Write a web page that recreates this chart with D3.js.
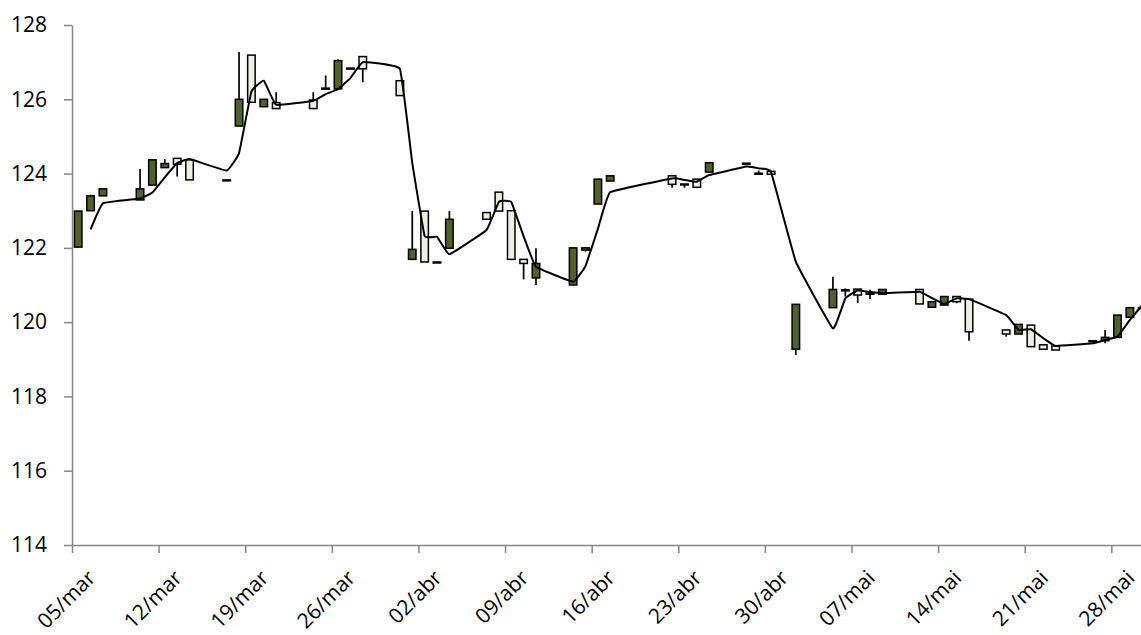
<!DOCTYPE html>
<html>
<head>
<meta charset="utf-8">
<script src="https://cdn.jsdelivr.net/npm/d3@7"></script>
<style>
  body { margin: 0; background: #fff; }
  svg text { font-family: "Open Sans", "Liberation Sans", sans-serif; }
</style>
</head>
<body>
<svg id="chart" width="1141" height="635"></svg>
<script>
// trading days (2014), dd/mm
const dates = [
  "05/03","06/03","07/03",
  "10/03","11/03","12/03","13/03","14/03",
  "17/03","18/03","19/03","20/03","21/03",
  "24/03","25/03","26/03","27/03","28/03",
  "31/03","01/04","02/04","03/04","04/04",
  "07/04","08/04","09/04","10/04","11/04",
  "14/04","15/04","16/04","17/04",
  "22/04","23/04","24/04","25/04",
  "28/04","29/04","30/04","02/05",
  "05/05","06/05","07/05","08/05","09/05",
  "12/05","13/05","14/05","15/05","16/05",
  "19/05","20/05","21/05","22/05","23/05",
  "26/05","27/05","28/05","29/05","30/05"
];

const openValues = [
  122.02, 123.00, 123.40,
  123.29, 123.69, 124.16, 124.41, 124.37,
  123.83, 125.28, 127.19, 125.80, 125.91,
  125.98, 126.30, 126.28, 126.84, 127.15,
  126.50, 121.69, 122.99, 121.62, 121.99,
  122.95, 123.50, 123.00, 121.69, 121.19,
  121.00, 121.94, 123.18, 123.80,
  123.94, 123.70, 123.85, 124.04,
  124.28, 124.01, 124.06, 119.27,
  120.39, 120.87, 120.89, 120.78, 120.75,
  120.88, 120.40, 120.46, 120.69, 120.62,
  119.79, 119.68, 119.92, 119.39, 119.36,
  119.50, 119.50, 119.59, 120.13, 120.39
];

const highValues = [
  122.99, 123.43, 123.59,
  124.12, 124.37, 124.39, 124.41, 124.37,
  123.83, 127.27, 127.19, 126.00, 126.19,
  126.19, 126.64, 127.08, 126.84, 127.15,
  126.50, 122.99, 122.99, 121.62, 122.99,
  122.95, 123.50, 123.00, 121.69, 121.99,
  122.00, 122.00, 123.85, 123.94,
  123.94, 123.72, 123.85, 124.29,
  124.28, 124.08, 124.06, 120.48,
  121.22, 120.91, 120.89, 120.87, 120.88,
  120.88, 120.55, 120.69, 120.69, 120.62,
  119.79, 119.94, 119.92, 119.39, 119.36,
  119.50, 119.79, 120.19, 120.39, 120.39
];

const lowValues = [
  122.02, 123.00, 123.40,
  123.29, 123.69, 124.16, 123.92, 123.83,
  123.83, 125.28, 125.92, 125.80, 125.75,
  125.75, 126.30, 126.28, 126.84, 126.46,
  126.10, 121.69, 121.62, 121.62, 121.99,
  122.77, 122.99, 121.69, 121.15, 121.00,
  121.00, 121.90, 123.18, 123.80,
  123.62, 123.62, 123.63, 124.04,
  124.28, 124.01, 123.98, 119.12,
  120.39, 120.69, 120.51, 120.62, 120.75,
  120.49, 120.40, 120.46, 120.51, 119.50,
  119.61, 119.68, 119.34, 119.27, 119.25,
  119.50, 119.43, 119.59, 120.13, 120.39
];

const closeValues = [
  122.99, 123.40, 123.59,
  123.59, 124.37, 124.27, 124.25, 123.83,
  123.83, 126.00, 125.92, 126.00, 125.75,
  125.75, 126.30, 127.04, 126.84, 126.82,
  126.10, 121.96, 121.62, 121.62, 122.77,
  122.77, 122.99, 121.69, 121.58, 121.58,
  122.00, 122.00, 123.85, 123.94,
  123.71, 123.72, 123.63, 124.29,
  124.28, 124.01, 123.98, 120.48,
  120.88, 120.87, 120.73, 120.78, 120.88,
  120.49, 120.55, 120.69, 120.55, 119.74,
  119.68, 119.94, 119.34, 119.27, 119.25,
  119.50, 119.59, 120.19, 120.39, 120.39
];

// moving average line (starts on the second day)
const avgValues = [
  null, 122.50, 123.20,
  123.33, 123.49, 123.90, 124.28, 124.39,
  124.08, 124.55, 126.21, 126.50, 125.85,
  125.96, 126.14, 126.27, 126.57, 127.00,
  126.82, 124.29, 122.32, 122.30, 121.83,
  122.48, 123.24, 123.24, 122.31, 121.49,
  121.09, 121.51, 122.51, 123.50,
  123.87, 123.83, 123.78, 123.96,
  124.19, 124.14, 124.04, 121.63,
  119.83, 120.64, 120.85, 120.81, 120.78,
  120.82, 120.65, 120.49, 120.64, 120.62,
  120.19, 119.79, 119.81, 119.57, 119.36,
  119.43, 119.52, 119.61, 120.06, 120.46
];

const yTicks = [114, 116, 118, 120, 122, 124, 126, 128];
const monthNames = ["jan","fev","mar","abr","mai","jun","jul","ago","set","out","nov","dez"];

const parseDay = d3.utcParse("%d/%m/%Y");
const data = dates.map((d, i) => ({
  date: parseDay(d + "/2014"),
  open: openValues[i],
  high: highValues[i],
  low: lowValues[i],
  close: closeValues[i],
  avg: avgValues[i]
}));

const svg = d3.select("#chart");

const dayWidth = 12.373;
const x0 = 72;
const start = Date.UTC(2014, 2, 5);
const end = Date.UTC(2014, 4, 31);
const x = d3.scaleUtc()
  .domain([start, end])
  .range([x0, x0 + 87 * dayWidth]);
const y = d3.scaleLinear().domain([114, 128]).range([545, 25]);

const cx = d => x(d) + dayWidth / 2;     // points sit between tick marks
const bodyW = 7.5;

const axisColor = "#868686";

// y axis
const yAxis = svg.append("g")
  .attr("transform", `translate(${x0},0)`)
  .call(d3.axisLeft(y).tickValues(yTicks).tickSize(8).tickSizeOuter(0).tickPadding(17));

// x axis
const fmt = d => String(d.getUTCDate()).padStart(2, "0") + "/" + monthNames[d.getUTCMonth()];
const xTicks = d3.utcDay.range(new Date(start), new Date(end), 7);
const xAxis = svg.append("g")
  .attr("transform", "translate(0,545)")
  .call(d3.axisBottom(x).tickValues(xTicks).tickFormat(fmt).tickSize(8).tickSizeOuter(0));

xAxis.selectAll("text")
  .attr("text-anchor", "end")
  .attr("dy", "0.35em")
  .attr("transform", "translate(19,29) rotate(-45)")
  .attr("y", 0).attr("x", 0);

[xAxis, yAxis].forEach(a => {
  a.select(".domain").attr("stroke", axisColor).attr("stroke-width", 1.5);
  a.selectAll(".tick line").attr("stroke", axisColor).attr("stroke-width", 1.5);
  a.selectAll("text").attr("fill", "#000").style("font-size", "21px");
});

// candles
const candles = svg.append("g");
candles.selectAll("line.wick")
  .data(data)
  .join("line")
    .attr("class", "wick")
    .attr("x1", d => cx(d.date))
    .attr("x2", d => cx(d.date))
    .attr("y1", d => y(d.high))
    .attr("y2", d => y(d.low))
    .attr("stroke", "#000")
    .attr("stroke-width", 1.7);

candles.selectAll("rect.body")
  .data(data)
  .join("rect")
    .attr("class", "body")
    .attr("x", d => cx(d.date) - bodyW / 2)
    .attr("y", d => y(Math.max(d.open, d.close)))
    .attr("width", bodyW)
    .attr("height", d => Math.max(1, Math.abs(y(d.open) - y(d.close))))
    .attr("fill", d => d.close >= d.open ? "#4f6228" : "#ebf1de")
    .attr("stroke", "#000")
    .attr("stroke-width", 1.5);

// average line
const line = d3.line()
  .defined(d => d.avg != null)
  .x(d => cx(d.date))
  .y(d => y(d.avg))
  .curve(d3.curveCardinal.tension(0.75));

svg.append("path")
  .datum(data)
  .attr("d", line)
  .attr("fill", "none")
  .attr("stroke", "#000")
  .attr("stroke-width", 2);
</script>
</body>
</html>
